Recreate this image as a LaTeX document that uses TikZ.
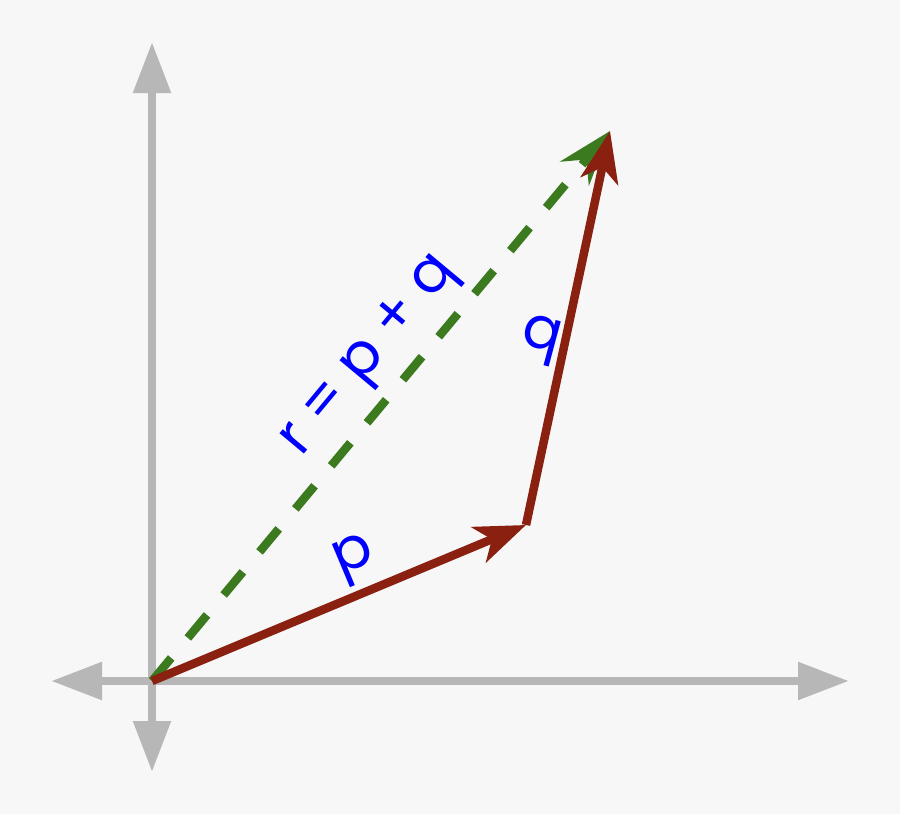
\documentclass[tikz,border=0pt]{standalone}
\usepackage{fontspec}
\newfontfamily\labfont{Poppins}
\usetikzlibrary{arrows.meta}
\definecolor{bg}{HTML}{F7F7F7}
\definecolor{axisgray}{HTML}{B7B7B7}
\definecolor{vecred}{HTML}{8A2010}
\definecolor{vecgreen}{HTML}{3B7A1E}
\definecolor{labblue}{HTML}{0000FF}
\tikzset{
  axisline/.style={draw=axisgray, line width=8.5pt, {Triangle[length=51pt,width=36pt]}-{Triangle[length=51pt,width=36pt]}},
  redvec/.style={draw=vecred, line width=8.5pt, -{Stealth[length=51pt,width=38pt,inset=14pt]}},
  greenvec/.style={draw=vecgreen, line width=8.5pt, dash pattern=on 30pt off 26pt, -{Stealth[length=55pt,width=37pt,inset=18pt]}},
  veclabel/.style={text=labblue, font=\labfont\fontsize{58}{60}\selectfont, inner sep=0pt}
}
\begin{document}
\begin{tikzpicture}[x=1pt,y=-1pt]
\fill[bg] (0,0) rectangle (900,814);
\useasboundingbox (0,0) rectangle (900,814);
\coordinate (O) at (152,681);
\coordinate (P) at (526,525);
\coordinate (Q) at (610,131);
\coordinate (Ytop) at (152,42);
\coordinate (Ybot) at (152,772);
\coordinate (Xleft) at (51,681);
\coordinate (Xright) at (849,681);
\draw[axisline] (Ybot) -- (Ytop);
\draw[axisline] (Xleft) -- (Xright);
\draw[greenvec] (O) -- (Q);
\draw[redvec] (O) -- (P);
\draw[redvec] (P) -- (Q);
\node[veclabel, rotate=22.7] (plab) at (355,560) {p};
\node[veclabel, rotate=-15] (qlab) at (541,340) {q};
\node[veclabel, rotate=50.2] (rlab) at (371,357) {r = p + q};
\end{tikzpicture}
\end{document}
